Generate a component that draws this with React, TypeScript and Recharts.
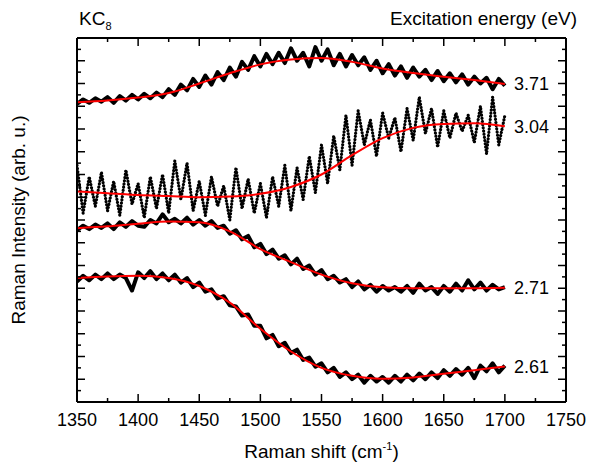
import React from "react";
import { LineChart, Line, XAxis, YAxis } from "recharts";

const font = "'Liberation Sans', Arial, sans-serif";

// Raman shift (cm-1) of the measured points
const shift = [
  1350, 1355, 1360, 1365, 1370, 1375, 1380, 1385, 1390, 1395,
  1400, 1405, 1410, 1415, 1420, 1425, 1430, 1435, 1440, 1445,
  1450, 1455, 1460, 1465, 1470, 1475, 1480, 1485, 1490, 1495,
  1500, 1505, 1510, 1515, 1520, 1525, 1530, 1535, 1540, 1545,
  1550, 1555, 1560, 1565, 1570, 1575, 1580, 1585, 1590, 1595,
  1600, 1605, 1610, 1615, 1620, 1625, 1630, 1635, 1640, 1645,
  1650, 1655, 1660, 1665, 1670, 1675, 1680, 1685, 1690, 1695,
  1700,
];

// measured spectra (offset, arb. u.)
const raman371 = [
  13.1, 13.3, 13.15, 13.35, 13.2, 13.4, 13.15, 13.45, 13.25, 13.5,
  13.3, 13.55, 13.35, 13.6, 13.4, 13.75, 13.5, 13.95, 13.7, 14.2,
  13.85, 14.35, 13.95, 14.5, 14.15, 14.7, 14.3, 14.95, 14.6, 15.2,
  14.75, 15.3, 14.85, 15.35, 14.9, 15.55, 15.0, 15.35, 14.75, 15.6,
  15.0, 15.5, 14.8, 15.3, 14.75, 15.25, 14.8, 15.15, 14.6, 15.0,
  14.45, 14.85, 14.35, 14.75, 14.25, 14.7, 14.3, 14.6, 14.15, 14.55,
  14.1, 14.45, 14.05, 14.4, 13.95, 14.3, 14.0, 14.25, 13.75, 14.2,
  13.9,
];

const raman304 = [
  10.4, 8.3, 9.9, 8.6, 10.1, 8.4, 9.7, 8.2, 10.2, 8.7,
  9.6, 8.1, 9.9, 8.5, 10.0, 8.3, 10.6, 8.9, 10.5, 8.4,
  9.7, 8.2, 9.9, 8.6, 9.5, 8.0, 10.3, 8.5, 9.8, 8.3,
  9.6, 8.1, 9.9, 8.6, 10.4, 8.4, 10.3, 8.9, 10.8, 9.2,
  11.3, 9.6, 11.7, 10.2, 12.6, 10.4, 12.8, 11.3, 12.4, 10.8,
  12.7, 11.6, 12.5, 11.0, 12.9, 11.5, 13.4, 11.8, 12.9, 11.2,
  12.8, 11.6, 12.7, 11.9, 12.6, 11.4, 13.0, 10.9, 13.4, 11.3,
  12.6,
];

const raman271 = [
  7.55, 7.75, 7.6, 7.8, 7.65, 7.85, 7.6, 7.9, 7.7, 7.95,
  7.75, 7.7, 8.0, 7.85, 8.25, 7.9, 8.05, 7.85, 8.1, 7.8,
  8.0, 7.75, 7.95, 7.65, 7.75, 7.4, 7.55, 7.15, 7.3, 6.8,
  6.95, 6.5, 6.7, 6.3, 6.45, 6.05, 6.3, 5.85, 6.0, 5.6,
  5.8, 5.4, 5.55, 5.25, 5.4, 5.05, 5.3, 4.95, 5.15, 4.85,
  5.1, 4.9, 5.05, 4.85, 5.1, 4.8, 5.2, 4.9, 5.05, 4.75,
  5.1, 4.85, 5.2, 4.9, 5.35, 4.95, 5.25, 4.9, 5.15, 4.95,
  5.05,
];

const raman261 = [
  5.3, 5.55, 5.35, 5.6, 5.4, 5.65, 5.4, 5.6, 5.45, 4.9,
  5.7, 5.45, 5.75, 5.4, 5.65, 5.35, 5.6, 5.25, 5.45, 5.05,
  5.25, 4.85, 4.95, 4.55, 4.65, 4.25, 4.2, 3.8, 3.85, 3.35,
  3.35, 2.8, 2.95, 2.45, 2.6, 2.15, 2.3, 1.85, 1.95, 1.55,
  1.7, 1.3, 1.5, 1.1, 1.3, 1.0, 1.2, 0.85, 1.15, 0.9,
  1.1, 0.85, 1.15, 0.9, 1.2, 0.95, 1.25, 1.0, 1.3, 1.05,
  1.4, 1.15, 1.45, 1.2, 1.5, 1.05, 1.6, 1.35, 1.7, 1.3,
  1.6,
];

// fitted curves (red)
const fitShift = [1350, 1375, 1400, 1425, 1450, 1475, 1500, 1525, 1550, 1575, 1600, 1625, 1650, 1675, 1700];
const fit371 = [13.18, 13.25, 13.38, 13.58, 14.0, 14.45, 14.84, 15.06, 15.12, 14.95, 14.66, 14.46, 14.3, 14.15, 13.98];
const fit304 = [9.25, 9.18, 9.1, 9.05, 9.0, 9.03, 9.15, 9.45, 10.0, 10.85, 11.6, 12.05, 12.22, 12.25, 12.12];
const fit271 = [7.64, 7.72, 7.84, 7.93, 7.9, 7.5, 6.72, 6.15, 5.6, 5.22, 5.04, 5.0, 5.0, 5.0, 5.02];
const fit261 = [5.45, 5.52, 5.55, 5.45, 5.1, 4.37, 3.22, 2.22, 1.5, 1.15, 1.02, 1.08, 1.24, 1.4, 1.56];

const energies = ["3.71", "3.04", "2.71", "2.61"];

const xTicks = [
  1350, 1375, 1400, 1425, 1450, 1475, 1500, 1525, 1550, 1575, 1600, 1625, 1650, 1675, 1700, 1725, 1750,
];
const yTicks = [
  0, 0.5, 1, 1.5, 2, 2.5, 3, 3.5, 4, 4.5, 5, 5.5, 6, 6.5, 7, 7.5, 8,
  8.5, 9, 9.5, 10, 10.5, 11, 11.5, 12, 12.5, 13, 13.5, 14, 14.5, 15, 15.5, 16,
];

const tableData = shift.map((x, i) => ({
  x,
  s371: raman371[i],
  s304: raman304[i],
  s271: raman271[i],
  s261: raman261[i],
}));

const fitData = (vals: number[]) => fitShift.map((x, i) => ({ x, y: vals[i] }));

const isMajor = (v: number, step: number) => Math.abs(v / step - Math.round(v / step)) < 1e-6;

const BottomTick = ({ x, y, payload }: any) => {
  const major = isMajor(payload.value, 50);
  return (
    <g>
      <line x1={x} x2={x} y1={y} y2={y - (major ? 8 : 4)} stroke="#000" strokeWidth={1.5} />
      {major && (
        <text x={x} y={y + 24} textAnchor="middle" fontSize={18} fontFamily={font} fill="#000">
          {payload.value}
        </text>
      )}
    </g>
  );
};

const TopTick = ({ x, y, payload }: any) => {
  const major = isMajor(payload.value, 50);
  return <line x1={x} x2={x} y1={y} y2={y + (major ? 8 : 4)} stroke="#000" strokeWidth={1.5} />;
};

const LeftTick = ({ x, y, payload }: any) => {
  const major = isMajor(payload.value, 1);
  return <line x1={x} x2={x + (major ? 8 : 4)} y1={y} y2={y} stroke="#000" strokeWidth={1.5} />;
};

const RightTick = ({ x, y, payload }: any) => {
  const major = isMajor(payload.value, 1);
  return <line x1={x} x2={x - (major ? 8 : 4)} y1={y} y2={y} stroke="#000" strokeWidth={1.5} />;
};

const endLabel = (text: string) => (props: any) => {
  const { x, y, index } = props;
  if (index !== fitShift.length - 1) return null;
  return (
    <text x={x + 9} y={y + 6.5} fontSize={18} fontFamily={font} fill="#000">
      {text}
    </text>
  );
};

const axisStyle = { stroke: "#000", strokeWidth: 2 };

export default function App() {
  return (
    <div style={{ position: "absolute", left: 0, top: 0, width: 589, height: 470, background: "#fff" }}>
      <LineChart
        width={589}
        height={470}
        data={tableData}
        margin={{ top: 28, right: 13, bottom: 58, left: 67 }}
      >
        <XAxis
          dataKey="x"
          type="number"
          domain={[1350, 1750]}
          ticks={xTicks}
          interval={0}
          height={10}
          tickSize={0}
          tickMargin={0}
          tickLine={false}
          axisLine={axisStyle}
          tick={(p: any) => <BottomTick {...p} />}
          allowDataOverflow
        />
        <XAxis
          xAxisId="top"
          orientation="top"
          dataKey="x"
          type="number"
          domain={[1350, 1750]}
          ticks={xTicks}
          interval={0}
          height={10}
          tickSize={0}
          tickMargin={0}
          tickLine={false}
          axisLine={axisStyle}
          tick={(p: any) => <TopTick {...p} />}
          allowDataOverflow
        />
        <YAxis
          type="number"
          domain={[0, 16]}
          ticks={yTicks}
          interval={0}
          width={10}
          tickSize={0}
          tickMargin={0}
          tickLine={false}
          axisLine={axisStyle}
          tick={(p: any) => <LeftTick {...p} />}
          allowDataOverflow
        />
        <YAxis
          yAxisId="right"
          orientation="right"
          type="number"
          domain={[0, 16]}
          ticks={yTicks}
          interval={0}
          width={10}
          tickSize={0}
          tickMargin={0}
          tickLine={false}
          axisLine={axisStyle}
          tick={(p: any) => <RightTick {...p} />}
          allowDataOverflow
        />

        <Line dataKey="s371" type="linear" stroke="#000" strokeWidth={4} strokeLinejoin="round" dot={false} activeDot={false} isAnimationActive={false} />
        <Line
          dataKey="s304"
          type="linear"
          stroke="#000"
          strokeWidth={3.2}
          strokeDasharray="0.01 3.2"
          strokeLinecap="round"
          dot={false}
          activeDot={false}
          isAnimationActive={false}
        />
        <Line dataKey="s271" type="linear" stroke="#000" strokeWidth={4} strokeLinejoin="round" dot={false} activeDot={false} isAnimationActive={false} />
        <Line dataKey="s261" type="linear" stroke="#000" strokeWidth={4} strokeLinejoin="round" dot={false} activeDot={false} isAnimationActive={false} />

        <Line data={fitData(fit371)} dataKey="y" type="monotone" stroke="#ff0000" strokeWidth={2} dot={false} activeDot={false} isAnimationActive={false} label={endLabel(energies[0])} />
        <Line data={fitData(fit304)} dataKey="y" type="monotone" stroke="#ff0000" strokeWidth={2} dot={false} activeDot={false} isAnimationActive={false} label={endLabel(energies[1])} />
        <Line data={fitData(fit271)} dataKey="y" type="monotone" stroke="#ff0000" strokeWidth={2} dot={false} activeDot={false} isAnimationActive={false} label={endLabel(energies[2])} />
        <Line data={fitData(fit261)} dataKey="y" type="monotone" stroke="#ff0000" strokeWidth={2} dot={false} activeDot={false} isAnimationActive={false} label={endLabel(energies[3])} />
      </LineChart>

      <svg
        width={589}
        height={470}
        style={{ position: "absolute", left: 0, top: 0, pointerEvents: "none" }}
        fontFamily={font}
        fill="#000"
      >
        <text x={79} y={25} fontSize={19}>
          KC<tspan fontSize={11} dy={5}>8</tspan>
        </text>
        <text x={577} y={25} fontSize={19} textAnchor="end">
          Excitation energy (eV)
        </text>
        <text transform="translate(25,220) rotate(-90)" fontSize={19} textAnchor="middle">
          Raman Intensity (arb. u.)
        </text>
        <text x={321.5} y={458} fontSize={19} textAnchor="middle">
          Raman shift (cm<tspan fontSize={11} dy={-8}>-1</tspan>
          <tspan dy={8}>)</tspan>
        </text>
      </svg>
    </div>
  );
}
